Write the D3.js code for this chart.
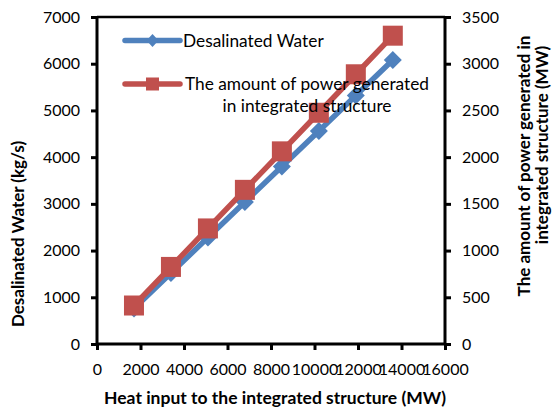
<!DOCTYPE html>
<html>
<head>
<meta charset="utf-8">
<script src="https://cdn.jsdelivr.net/npm/d3@7/dist/d3.min.js"></script>
<style>
  html, body { margin: 0; padding: 0; background: #fff; }
  svg { display: block; }
  text { font-family: Lato, "Open Sans", sans-serif; fill: #000; }
</style>
</head>
<body>
<svg id="chart" width="552" height="410"></svg>
<script>
// Heat input (MW) at each operating point
const heatInput = [1700, 3400, 5100, 6800, 8500, 10200, 11900, 13600];
// Desalinated water production (kg/s), left axis
const desalinatedWater = [760, 1520, 2280, 3040, 3800, 4560, 5320, 6080];
// Power generated in the integrated structure (MW), right axis
const powerGenerated = [412, 825, 1237, 1650, 2062, 2475, 2887, 3300];

const xTicks = [0, 2000, 4000, 6000, 8000, 10000, 12000, 14000, 16000];
const leftTicks = [0, 1000, 2000, 3000, 4000, 5000, 6000, 7000];
const rightTicks = [0, 500, 1000, 1500, 2000, 2500, 3000, 3500];

const seriesNames = ["Desalinated Water", "The amount of power generated", "in integrated structure"];
const xTitle = "Heat input to the integrated structure (MW)";
const leftTitle = "Desalinated Water (kg/s)";
const rightTitle = ["The amount of power generated in", "integrated structure (MW)"];

const blue = "#4F81BD";
const red = "#C0504D";

const plot = { left: 97, right: 445, top: 17, bottom: 344 };

const svg = d3.select("#chart");

const x = d3.scaleLinear().domain([0, 16000]).range([plot.left, plot.right]);
const yL = d3.scaleLinear().domain([0, 7000]).range([plot.bottom, plot.top]);
const yR = d3.scaleLinear().domain([0, 3500]).range([plot.bottom, plot.top]);

// top border of the plot area
svg.append("line")
  .attr("x1", plot.left).attr("x2", plot.right)
  .attr("y1", plot.top).attr("y2", plot.top)
  .attr("stroke", "#000").attr("stroke-width", 2.5);

const tickFont = "16px";

// axes
const gx = svg.append("g").attr("transform", `translate(0,${plot.bottom})`)
  .call(d3.axisBottom(x).tickValues(xTicks).tickFormat(d3.format("d")).tickSize(6).tickPadding(14));
const gl = svg.append("g").attr("transform", `translate(${plot.left},0)`)
  .call(d3.axisLeft(yL).tickValues(leftTicks).tickFormat(d3.format("d")).tickSize(6).tickPadding(11));
const gr = svg.append("g").attr("transform", `translate(${plot.right},0)`)
  .call(d3.axisRight(yR).tickValues(rightTicks).tickFormat(d3.format("d")).tickSize(6).tickPadding(11));

[gx, gl, gr].forEach(g => {
  g.select(".domain").attr("stroke", "#000").attr("stroke-width", 3);
  g.selectAll(".tick line").attr("stroke", "#000").attr("stroke-width", 3);
  g.selectAll(".tick text").style("font-size", tickFont).style("font-family", "Lato, sans-serif").attr("fill", "#000");
});
// plain axis lines without end caps
gx.select(".domain").attr("d", `M${plot.left},0H${plot.right}`);
gl.select(".domain").attr("d", `M0,${plot.bottom}V${plot.top}`);
gr.select(".domain").attr("d", `M0,${plot.bottom}V${plot.top}`);

// axis titles
svg.append("text")
  .attr("x", 275).attr("y", 404)
  .attr("text-anchor", "middle")
  .style("font-size", "17.5px").style("font-weight", "bold")
  .text(xTitle);

svg.append("text")
  .attr("transform", "translate(24,234) rotate(-90)")
  .attr("text-anchor", "middle")
  .style("font-size", "17px").style("font-weight", "bold")
  .text(leftTitle);

svg.append("text")
  .attr("transform", "translate(530,166) rotate(-90)")
  .attr("text-anchor", "middle")
  .style("font-size", "17px").style("font-weight", "bold")
  .text(rightTitle[0]);
svg.append("text")
  .attr("transform", "translate(548,145) rotate(-90)")
  .attr("text-anchor", "middle")
  .style("font-size", "17px").style("font-weight", "bold")
  .text(rightTitle[1]);

// series
const blueData = heatInput.map((h, i) => [h, desalinatedWater[i]]);
const redData = heatInput.map((h, i) => [h, powerGenerated[i]]);

const diamond = (cx, cy, hw, hh) => `M${cx},${cy - hh}L${cx + hw},${cy}L${cx},${cy + hh}L${cx - hw},${cy}Z`;

svg.append("path")
  .datum(blueData)
  .attr("fill", "none").attr("stroke", blue).attr("stroke-width", 5.5)
  .attr("stroke-linejoin", "round").attr("stroke-linecap", "round")
  .attr("d", d3.line().x(d => x(d[0])).y(d => yL(d[1])));

svg.selectAll(".bm").data(blueData).enter().append("path")
  .attr("class", "bm")
  .attr("fill", blue)
  .attr("d", d => diamond(x(d[0]), yL(d[1]), 9, 9));

svg.append("path")
  .datum(redData)
  .attr("fill", "none").attr("stroke", red).attr("stroke-width", 5.5)
  .attr("stroke-linejoin", "round").attr("stroke-linecap", "round")
  .attr("d", d3.line().x(d => x(d[0])).y(d => yR(d[1])));

svg.selectAll(".rm").data(redData).enter().append("rect")
  .attr("class", "rm")
  .attr("fill", red)
  .attr("x", d => x(d[0]) - 10).attr("y", d => yR(d[1]) - 10)
  .attr("width", 20).attr("height", 20);

// legend, drawn over the series
const legend = svg.append("g");
legend.append("line").attr("x1", 125).attr("x2", 180).attr("y1", 40.5).attr("y2", 40.5)
  .attr("stroke", blue).attr("stroke-width", 5.5).attr("stroke-linecap", "round");
legend.append("path").attr("fill", blue).attr("d", diamond(152.5, 40.5, 6, 6.5));
legend.append("text").attr("x", 183).attr("y", 46.5).style("font-size", "17.3px").text(seriesNames[0]);

legend.append("line").attr("x1", 125).attr("x2", 180).attr("y1", 84).attr("y2", 84)
  .attr("stroke", red).attr("stroke-width", 5.5).attr("stroke-linecap", "round");
legend.append("rect").attr("fill", red).attr("x", 146).attr("y", 77.5).attr("width", 13).attr("height", 13);
legend.append("text").attr("x", 307).attr("y", 90).attr("text-anchor", "middle").style("font-size", "17.3px").text(seriesNames[1]);
legend.append("text").attr("x", 307).attr("y", 112).attr("text-anchor", "middle").style("font-size", "17.3px").text(seriesNames[2]);
</script>
</body>
</html>
